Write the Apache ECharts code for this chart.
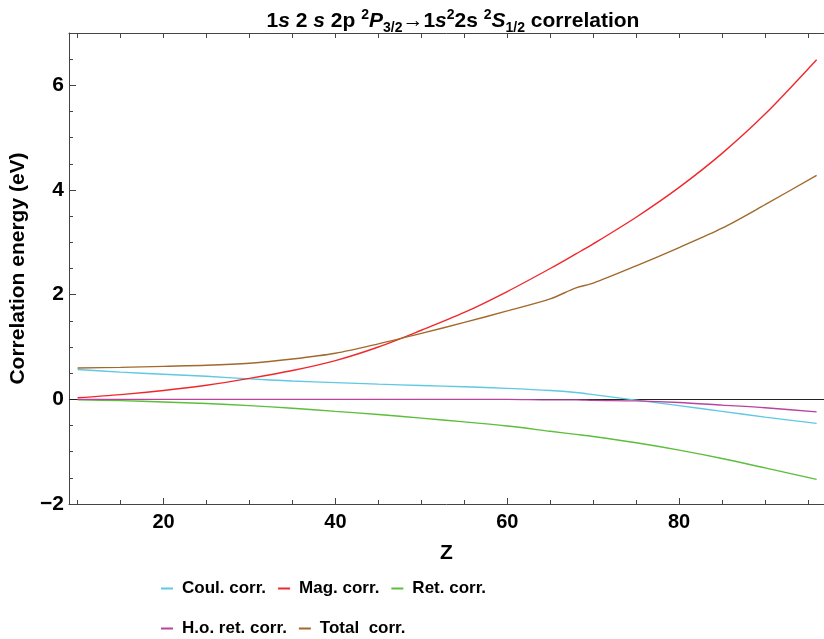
<!DOCTYPE html>
<html>
<head>
<meta charset="utf-8">
<script src="https://cdn.jsdelivr.net/npm/echarts@6/dist/echarts.min.js"></script>
<style>
  html, body { margin: 0; padding: 0; background: #fff; }
  #chart { width: 824px; height: 639px; }
</style>
</head>
<body>
<div id="chart"></div>
<script>
// nuclear charge Z
var zValues = [10, 15, 20, 25, 30, 35, 40, 45, 50, 55, 60, 65, 68, 70, 75, 80, 85, 90, 96]
// correlation contributions (eV)
var coulCorr = [0.57, 0.52, 0.48, 0.44, 0.39, 0.35, 0.32, 0.29, 0.265, 0.24, 0.21, 0.17, 0.13, 0.09, -0.015, -0.12, -0.23, -0.34, -0.46]
var magCorr = [0.03, 0.09, 0.17, 0.27, 0.40, 0.55, 0.74, 1.00, 1.32, 1.66, 2.06, 2.50, 2.78, 2.97, 3.48, 4.05, 4.70, 5.45, 6.49]
var retCorr = [-0.01, -0.025, -0.05, -0.08, -0.12, -0.17, -0.23, -0.29, -0.36, -0.43, -0.51, -0.61, -0.67, -0.71, -0.83, -0.97, -1.13, -1.31, -1.53]
var hoRetCorr = [0, 0, 0, 0, 0, 0, 0, 0, 0, 0, 0, -0.01, -0.01, -0.02, -0.03, -0.06, -0.11, -0.16, -0.24]
var totalCorr = [0.60, 0.61, 0.63, 0.65, 0.69, 0.77, 0.88, 1.06, 1.26, 1.47, 1.69, 1.92, 2.13, 2.22, 2.55, 2.90, 3.27, 3.72, 4.28]

var seriesNames = ['Coul. corr.', 'Mag. corr.', 'Ret. corr.', 'H.o. ret. corr.', 'Total  corr.']
var seriesColors = ['#5fc8e2', '#f0282d', '#5cbe3a', '#b8449c', '#a2692c']
var seriesData = [coulCorr, magCorr, retCorr, hoRetCorr, totalCorr]

var xLabelTicks = [20, 40, 60, 80]
var xMinorTicks = [10, 15, 25, 30, 35, 45, 50, 55, 65, 70, 75, 85, 90, 95]
var xAllTicks = [10, 15, 20, 25, 30, 35, 40, 45, 50, 55, 60, 65, 70, 75, 80, 85, 90, 95]
var yLabelTicks = [-2, 0, 2, 4, 6]
var yMinorTicks = [-1.5, -1, -0.5, 0.5, 1, 1.5, 2.5, 3, 3.5, 4.5, 5, 5.5, 6.5]

var fontMain = "'Liberation Sans Narrow', 'Liberation Sans', Arial, sans-serif"
var fontTitle = "'Liberation Sans', Arial, sans-serif"
var axisColor = '#444'

var chart = echarts.init(document.getElementById('chart'))

function pairs(arr) {
    return zValues.map(function (z, i) { return [z, arr[i]] })
}

var series = seriesNames.map(function (name, i) {
    return {
        name: name,
        type: 'line',
        showSymbol: false,
        smooth: 0.3,
        data: pairs(seriesData[i]),
        lineStyle: { width: 1.4, color: seriesColors[i] },
        itemStyle: { color: seriesColors[i] },
        z: 3
    }
})
// horizontal zero line
series[0].markLine = {
    silent: true,
    symbol: 'none',
    label: { show: false },
    lineStyle: { color: '#222', width: 1, type: 'solid' },
    data: [{ yAxis: 0 }],
    z: 2
}

var legendText = { fontFamily: fontMain, fontWeight: 'bold', fontSize: 17, color: '#000', padding: [0, 0, 0, 4] }

chart.setOption({
    animation: false,
    title: {
        text: '1{i|s} 2 {i|s} 2p {sup|2}{i|P}{sub|3/2}\u21921{i|s}{sup|2}2s {sup|2}{i|S}{sub|1/2} correlation',
        left: 448,
        textAlign: 'center',
        top: 3,
        textStyle: {
            fontFamily: fontTitle, fontWeight: 'bold', fontSize: 21, color: '#000', lineHeight: 27,
            rich: {
                i: { fontFamily: fontTitle, fontWeight: 'bold', fontStyle: 'italic', fontSize: 21, lineHeight: 27 },
                sup: { fontFamily: fontTitle, fontWeight: 'bold', fontSize: 14, lineHeight: 18, verticalAlign: 'top' },
                sub: { fontFamily: fontTitle, fontWeight: 'bold', fontSize: 14, lineHeight: 17, verticalAlign: 'bottom' }
            }
        }
    },
    legend: [
        {
            data: seriesNames.slice(0, 3),
            left: 156, top: 575,
            icon: 'rect', itemWidth: 12, itemHeight: 2, itemGap: 12,
            textStyle: legendText
        },
        {
            data: seriesNames.slice(3),
            left: 156, top: 615,
            icon: 'rect', itemWidth: 12, itemHeight: 2, itemGap: 12,
            textStyle: legendText
        }
    ],
    grid: { left: 69, right: 0, top: 33, bottom: 135, containLabel: false },
    xAxis: [
        {
            type: 'value', min: 9, max: 96.86, position: 'bottom',
            name: 'Z', nameLocation: 'middle', nameGap: 39,
            nameTextStyle: { fontFamily: fontMain, fontWeight: 'bold', fontSize: 21, color: '#000' },
            axisLine: { onZero: false, lineStyle: { color: axisColor, width: 1 } },
            axisTick: { inside: true, length: 6, customValues: xLabelTicks, lineStyle: { color: axisColor } },
            axisLabel: { customValues: xLabelTicks, margin: 8, fontFamily: fontMain, fontWeight: 'bold', fontSize: 20, color: '#000' },
            splitLine: { show: false }
        },
        {
            type: 'value', min: 9, max: 96.86, position: 'top',
            axisLine: { onZero: false, lineStyle: { color: axisColor, width: 1 } },
            axisTick: { inside: true, length: 5, customValues: xAllTicks, lineStyle: { color: axisColor } },
            axisLabel: { show: false },
            splitLine: { show: false }
        },
        {
            type: 'value', min: 9, max: 96.86, position: 'bottom',
            axisLine: { show: false, onZero: false },
            axisTick: { inside: true, length: 4, customValues: xMinorTicks, lineStyle: { color: axisColor } },
            axisLabel: { show: false },
            splitLine: { show: false }
        }
    ],
    yAxis: [
        {
            type: 'value', min: -2, max: 7, position: 'left',
            name: 'Correlation energy (eV)', nameLocation: 'middle', nameGap: 27, nameRotate: 90,
            nameTextStyle: { fontFamily: fontMain, fontWeight: 'bold', fontSize: 21, color: '#000' },
            axisLine: { show: true, onZero: false, lineStyle: { color: axisColor, width: 1 } },
            axisTick: { show: true, inside: true, length: 7, customValues: yLabelTicks, lineStyle: { color: axisColor } },
            axisLabel: {
                customValues: yLabelTicks, margin: 5, fontFamily: fontMain, fontWeight: 'bold', fontSize: 21, color: '#000',
                formatter: function (v) { return v < 0 ? '\u2212' + Math.abs(v) : String(v) }
            },
            splitLine: { show: false }
        },
        {
            type: 'value', min: -2, max: 7, position: 'left',
            axisLine: { show: false, onZero: false },
            axisTick: { show: true, inside: true, length: 4, customValues: yMinorTicks, lineStyle: { color: axisColor } },
            axisLabel: { show: false },
            splitLine: { show: false }
        }
    ],
    series: series
})
</script>
</body>
</html>
